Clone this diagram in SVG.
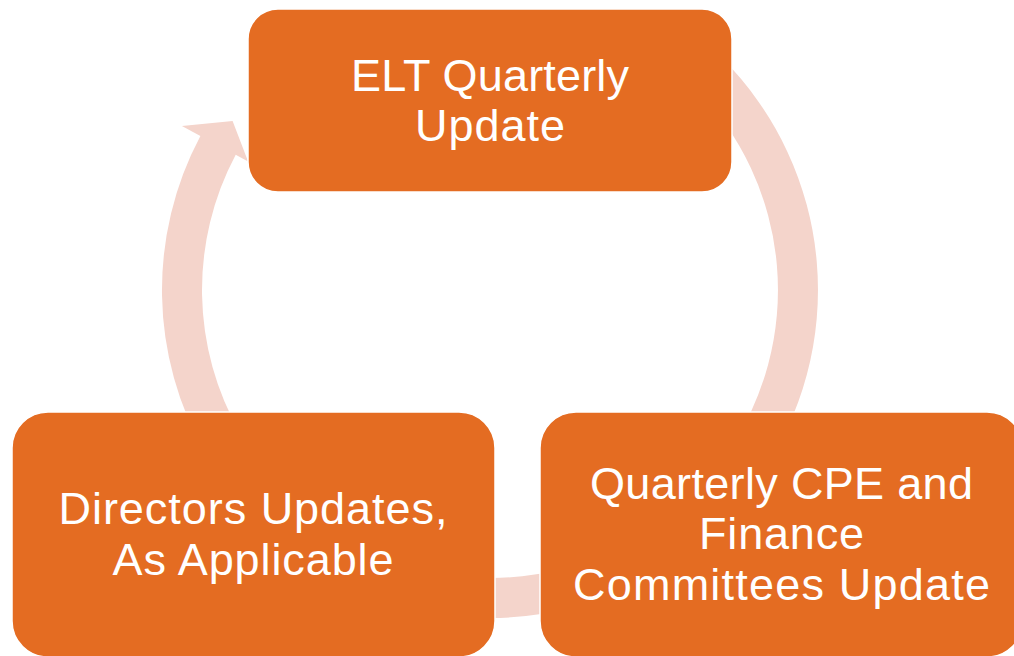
<svg xmlns="http://www.w3.org/2000/svg" width="1014" height="656" viewBox="0 0 1014 656">
  <style>
    .arc { fill: #F4D4CB; stroke: none; }
    .box { fill: #E46C22; stroke: #FFFFFF; stroke-width: 1.5; }
    .lbl { fill: #FFFFFF; font-family: "Liberation Sans", Arial, sans-serif; font-size: 45px; text-anchor: middle; }
  </style>
  <rect width="1014" height="656" fill="#FFFFFF"/>
  <g id="connectors">
    <path class="arc" d="M 721.9 58.1 A 328 328 0 0 1 758.7 478.1 L 775.9 490.2 L 724.9 489.2 L 714.5 447.2 L 725.9 455.2 A 288 288 0 0 0 693.6 86.4 Z"/>
    <path class="arc" d="M 574.9 606.8 A 328 328 0 0 1 433.1 613 L 429.4 633.7 L 408.7 587.1 L 442.4 559.8 L 440 573.6 A 288 288 0 0 0 564.5 568.2 Z"/>
    <path class="arc" d="M 205.9 454 A 328 328 0 0 1 200.4 136 L 181.9 126.1 L 232.6 120.9 L 248.1 161.4 L 235.7 154.8 A 288 288 0 0 0 240.6 434 Z"/>
  </g>
  <g id="node-elt">
    <rect class="box" x="248" y="9" width="484" height="183" rx="30" ry="30"/>
    <text class="lbl" x="490" y="91" textLength="278" lengthAdjust="spacing">ELT Quarterly</text>
    <text class="lbl" x="490" y="141" textLength="150" lengthAdjust="spacing">Update</text>
  </g>
  <g id="node-directors">
    <rect class="box" x="12" y="412" width="483" height="245" rx="36" ry="36"/>
    <text class="lbl" x="253" y="524" textLength="389" lengthAdjust="spacing">Directors Updates,</text>
    <text class="lbl" x="253" y="575" textLength="281" lengthAdjust="spacing">As Applicable</text>
  </g>
  <g id="node-committees">
    <rect class="box" x="540" y="412" width="483" height="245" rx="36" ry="36"/>
    <text class="lbl" x="781.5" y="499" textLength="383" lengthAdjust="spacing">Quarterly CPE and</text>
    <text class="lbl" x="781.5" y="549" textLength="165" lengthAdjust="spacing">Finance</text>
    <text class="lbl" x="781.5" y="600" textLength="417" lengthAdjust="spacing">Committees Update</text>
  </g>
</svg>
